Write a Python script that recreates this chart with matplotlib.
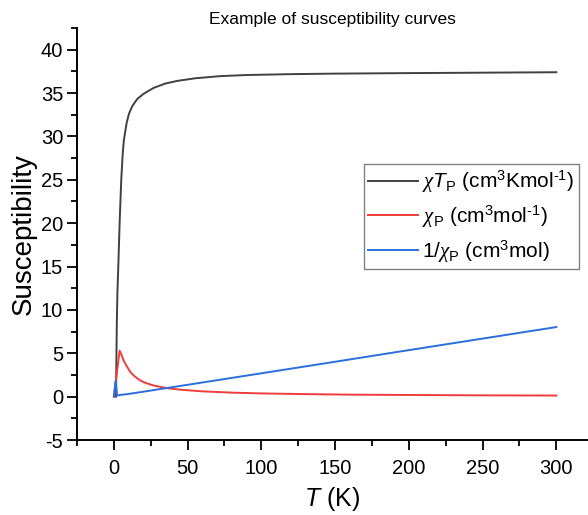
import matplotlib
matplotlib.use("Agg")
import matplotlib.pyplot as plt
from matplotlib.ticker import MultipleLocator

plt.rcParams['font.family'] = ['Liberation Sans', 'DejaVu Sans']
plt.rcParams['mathtext.fontset'] = 'custom'
plt.rcParams['mathtext.rm'] = 'Liberation Sans'
plt.rcParams['mathtext.it'] = 'Liberation Sans:italic'
plt.rcParams['mathtext.cal'] = 'Liberation Serif:italic'
plt.rcParams['axes.unicode_minus'] = False

# chi*T (cm3 K mol-1)
T_chiT = [1.5, 1.7, 2.0, 2.4, 3.0, 3.9, 5.0, 6.0, 6.8, 8.6, 10.2, 12.5, 15.8, 20, 27,
          35, 43, 55, 72, 90, 120, 150, 200, 250, 300]
chiT = [0.0, 4.0, 8.5, 12.0, 15.0, 20.0, 25.0, 28.0, 29.6, 31.5, 32.6, 33.5, 34.3,
        34.9, 35.6, 36.1, 36.4, 36.7, 36.95, 37.08, 37.18, 37.24, 37.3, 37.35, 37.4]

# chi (cm3 mol-1)
T_chi = [0.0, 3.9, 5.0, 6.8, 8.6, 11.3, 14, 18, 22, 27, 36, 45, 60, 80, 100, 130,
         160, 200, 250, 300]
chi = [0.0, 5.3, 4.9, 4.1, 3.55, 2.8, 2.35, 1.85, 1.55, 1.28, 0.98, 0.8, 0.61,
       0.46, 0.37, 0.29, 0.23, 0.19, 0.15, 0.125]

# 1/chi (cm3 mol)
T_inv = [0.0, 1.2, 2.2, 4, 10, 20, 40, 60, 100, 150, 200, 250, 300]
inv_chi = [0.0, 1.85, 0.12, 0.19, 0.31, 0.57, 1.1, 1.63, 2.69, 4.02, 5.36, 6.69, 8.02]

labels = [r'$\mathcal{\chi}T_\mathrm{P}$ (cm$^3$Kmol$^{\text{-1}}$)',
          r'$\mathcal{\chi}_\mathrm{P}$ (cm$^3$mol$^{\text{-1}}$)',
          r'1/$\mathcal{\chi}_\mathrm{P}$ (cm$^3$mol)']
colors = ['#404040', '#F03C3C', '#2A6FDB']

fig = plt.figure(figsize=(5.88, 5.15), dpi=100)
ax = fig.add_axes([77/588, 1-440/515, 1-77/588, (440-28)/515])

ax.plot(T_chiT, chiT, color=colors[0], lw=1.4, label=labels[0])
ax.plot(T_chi, chi, color=colors[1], lw=1.4, label=labels[1])
ax.plot(T_inv, inv_chi, color=colors[2], lw=1.4, label=labels[2])

ax.set_xlim(-25, 321.5)
ax.set_ylim(-5, 42.5)
ax.xaxis.set_major_locator(MultipleLocator(50))
ax.xaxis.set_minor_locator(MultipleLocator(25))
ax.yaxis.set_major_locator(MultipleLocator(5))
ax.yaxis.set_minor_locator(MultipleLocator(2.5))
for s in ['top', 'right']:
    ax.spines[s].set_visible(False)
for s in ['left', 'bottom']:
    ax.spines[s].set_linewidth(1.4)
ax.tick_params(which='major', direction='out', length=7, width=1.3, labelsize=14.5)
ax.tick_params(axis='x', which='major', pad=7)
ax.tick_params(axis='y', which='major', pad=3)
ax.tick_params(which='minor', direction='out', length=4, width=1.3)

ax.set_xlabel(r'$T$ (K)', fontsize=18, labelpad=5)
ax.set_ylabel('Susceptibility', fontsize=20, labelpad=3)
ax.set_title('Example of susceptibility curves', fontsize=12.5, pad=3)

leg = ax.legend(loc='upper left', bbox_to_anchor=(0.5616, 0.670), borderaxespad=0,
                fontsize=15, fancybox=False, framealpha=1, edgecolor='#808080',
                handlelength=2.4, handletextpad=0.2, labelspacing=0.38,
                borderpad=0.2)
leg.get_frame().set_linewidth(1.0)

fig.savefig('out.png', dpi=100)
